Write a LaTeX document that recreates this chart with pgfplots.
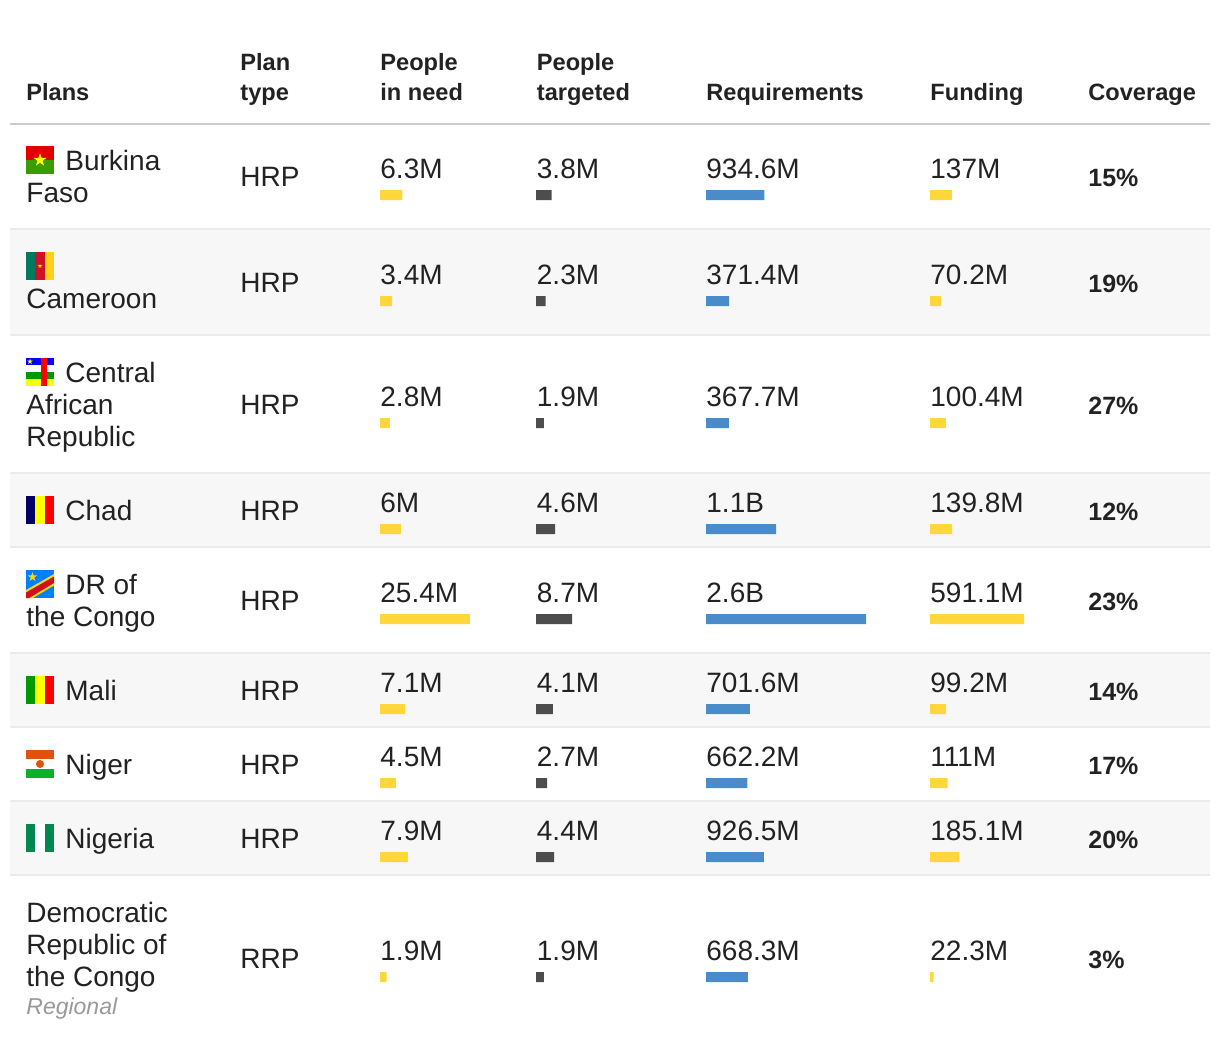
\documentclass[border=0pt]{standalone}
\usepackage{fontspec}
\setmainfont{Liberation Sans}
\usepackage{pgfplots}
\pgfplotsset{compat=1.18}
\usetikzlibrary{shapes.geometric}

\definecolor{ink}{HTML}{222222}
\definecolor{rowbg}{HTML}{F7F7F7}
\definecolor{rule}{HTML}{CCCCCC}
\definecolor{sep}{HTML}{EBEBEB}
\definecolor{yel}{HTML}{FFD73B}
\definecolor{dark}{HTML}{4D4D4D}
\definecolor{blu}{HTML}{4A8CCA}
\definecolor{grey}{HTML}{999999}
% flag colours
\definecolor{fred}{HTML}{E00000}
\definecolor{fpure}{HTML}{FF0000}
\definecolor{fgreen}{HTML}{3A9C00}
\definecolor{fyel}{HTML}{FFFF00}
\definecolor{cmgreen}{HTML}{007A5E}
\definecolor{cmred}{HTML}{CE1126}
\definecolor{cmyel}{HTML}{FCD116}
\definecolor{cagreen}{HTML}{009900}
\definecolor{navy}{HTML}{000066}
\definecolor{cdblue}{HTML}{007FFF}
\definecolor{cdred}{HTML}{CE1021}
\definecolor{cdyel}{HTML}{F7D618}
\definecolor{mlgreen}{HTML}{009A00}
\definecolor{neorange}{HTML}{E05206}
\definecolor{negreen}{HTML}{0DB02B}
\definecolor{nggreen}{HTML}{008751}

% one picture pixel = 0.5pt
\pgfplotsset{
  px/.style={hide axis, scale only axis, height=525pt, ymin=0, ymax=1050, y dir=reverse, clip=false},
  barcol/.style 2 args={px, at={(#1*0.5pt,0pt)}, width=120pt, xmin=0, xmax=240/#2, xbar, bar shift=0pt, bar width=5pt},
}
\tikzset{
  txt/.style={anchor=base west, inner sep=0pt, text=ink, font=\fontsize{14}{16}\selectfont},
  hd/.style={anchor=base west, inner sep=0pt, text=ink, font=\fontsize{11.8}{15}\selectfont\bfseries},
  cov/.style={anchor=base west, inner sep=0pt, text=ink, font=\fontsize{12.5}{15}\selectfont\bfseries},
  st/.style={star, star points=5, star point ratio=2.618, inner sep=0pt, draw=none},
}
% baseline of the values, values, plan type
\newcommand\rowvals[7]{%
  \node[txt] at (axis cs:240,#1+8) {#7};
  \node[txt] at (axis cs:380,#1) {#2};
  \node[txt] at (axis cs:536.5,#1) {#3};
  \node[txt] at (axis cs:706,#1) {#4};
  \node[txt] at (axis cs:930,#1) {#5};
  \node[cov] at (axis cs:1088,#1+8) {#6\%};
}

\begin{document}
\begin{tikzpicture}
\begin{axis}[px, width=610pt, xmin=0, xmax=1220]
  % page background keeps the full size of the picture
  \fill[white] (axis cs:0,0) rectangle (axis cs:1220,1050);
  % row backgrounds and rules
  \fill[rowbg] (axis cs:10,230) rectangle (axis cs:1210,334);
  \fill[rowbg] (axis cs:10,474) rectangle (axis cs:1210,546);
  \fill[rowbg] (axis cs:10,654) rectangle (axis cs:1210,726);
  \fill[rowbg] (axis cs:10,802) rectangle (axis cs:1210,874);
  \fill[rule] (axis cs:10,122.5) rectangle (axis cs:1210,124.5);
  \fill[sep] (axis cs:10,228) rectangle (axis cs:1210,230);
  \fill[sep] (axis cs:10,334) rectangle (axis cs:1210,336);
  \fill[sep] (axis cs:10,472) rectangle (axis cs:1210,474);
  \fill[sep] (axis cs:10,546) rectangle (axis cs:1210,548);
  \fill[sep] (axis cs:10,652) rectangle (axis cs:1210,654);
  \fill[sep] (axis cs:10,726) rectangle (axis cs:1210,728);
  \fill[sep] (axis cs:10,800) rectangle (axis cs:1210,802);
  \fill[sep] (axis cs:10,874) rectangle (axis cs:1210,876);

  % header
  \node[hd] at (axis cs:26,100) {Plans};
  \node[hd] at (axis cs:240,70) {Plan};
  \node[hd] at (axis cs:240,100) {type};
  \node[hd] at (axis cs:380,70) {People};
  \node[hd] at (axis cs:380,100) {in need};
  \node[hd] at (axis cs:536.5,70) {People};
  \node[hd] at (axis cs:536.5,100) {targeted};
  \node[hd] at (axis cs:706,100) {Requirements};
  \node[hd] at (axis cs:930,100) {Funding};
  \node[hd] at (axis cs:1088,100) {Coverage};

  % plan names
  \node[txt] at (axis cs:65,170) {Burkina};
  \node[txt] at (axis cs:26,202) {Faso};
  \node[txt] at (axis cs:26,308) {Cameroon};
  \node[txt] at (axis cs:65,382) {Central};
  \node[txt] at (axis cs:26,414) {African};
  \node[txt] at (axis cs:26,446) {Republic};
  \node[txt] at (axis cs:65,520) {Chad};
  \node[txt] at (axis cs:65,594) {DR of};
  \node[txt] at (axis cs:26,626) {the Congo};
  \node[txt] at (axis cs:65,700) {Mali};
  \node[txt] at (axis cs:65,774) {Niger};
  \node[txt] at (axis cs:65,848) {Nigeria};
  \node[txt] at (axis cs:26,922) {Democratic};
  \node[txt] at (axis cs:26,954) {Republic of};
  \node[txt] at (axis cs:26,986) {the Congo};
  \node[txt, text=grey, font=\fontsize{11.5}{15}\selectfont\itshape] at (axis cs:26,1014) {Regional};

  % values
  \rowvals{178}{6.3M}{3.8M}{934.6M}{137M}{15}{HRP}
  \rowvals{284}{3.4M}{2.3M}{371.4M}{70.2M}{19}{HRP}
  \rowvals{406}{2.8M}{1.9M}{367.7M}{100.4M}{27}{HRP}
  \rowvals{512}{6M}{4.6M}{1.1B}{139.8M}{12}{HRP}
  \rowvals{602}{25.4M}{8.7M}{2.6B}{591.1M}{23}{HRP}
  \rowvals{692}{7.1M}{4.1M}{701.6M}{99.2M}{14}{HRP}
  \rowvals{766}{4.5M}{2.7M}{662.2M}{111M}{17}{HRP}
  \rowvals{840}{7.9M}{4.4M}{926.5M}{185.1M}{20}{HRP}
  \rowvals{960}{1.9M}{1.9M}{668.3M}{22.3M}{3}{RRP}

  % flags
  % Burkina Faso
  \fill[fred] (axis cs:26,146) rectangle (axis cs:54,160);
  \fill[fgreen] (axis cs:26,160) rectangle (axis cs:54,174);
  \node[st, fill=fyel, minimum size=7pt] at (axis cs:40,160) {};
  % Cameroon
  \fill[cmgreen] (axis cs:26,252) rectangle (axis cs:35.3,280);
  \fill[cmred] (axis cs:35.3,252) rectangle (axis cs:44.7,280);
  \fill[cmyel] (axis cs:44.7,252) rectangle (axis cs:54,280);
  \node[st, fill=cmyel, minimum size=2.5pt] at (axis cs:40,266) {};
  % Central African Republic
  \fill[blue] (axis cs:26,358) rectangle (axis cs:54,365);
  \fill[white] (axis cs:26,365) rectangle (axis cs:54,372);
  \fill[cagreen] (axis cs:26,372) rectangle (axis cs:54,379);
  \fill[fyel] (axis cs:26,379) rectangle (axis cs:54,386);
  \fill[fpure] (axis cs:40.7,358) rectangle (axis cs:47.3,386);
  \node[st, fill=fyel, minimum size=3pt] at (axis cs:30,361.5) {};
  % Chad
  \fill[navy] (axis cs:26,496) rectangle (axis cs:35.3,524);
  \fill[fyel] (axis cs:35.3,496) rectangle (axis cs:44.7,524);
  \fill[fpure] (axis cs:44.7,496) rectangle (axis cs:54,524);
  % DR Congo
  \fill[cdblue] (axis cs:26,570) rectangle (axis cs:54,598);
  \fill[cdyel] (axis cs:26,590) -- (axis cs:54,574) -- (axis cs:54,585.5) -- (axis cs:33,598) -- (axis cs:26,598) -- cycle;
  \fill[cdred] (axis cs:26,592.5) -- (axis cs:54,576.5) -- (axis cs:54,583) -- (axis cs:29,598) -- (axis cs:26,598) -- cycle;
  \node[st, fill=cdyel, minimum size=5pt] at (axis cs:32.5,577) {};
  % Mali
  \fill[mlgreen] (axis cs:26,676) rectangle (axis cs:35.3,704);
  \fill[fyel] (axis cs:35.3,676) rectangle (axis cs:44.7,704);
  \fill[fpure] (axis cs:44.7,676) rectangle (axis cs:54,704);
  % Niger
  \fill[neorange] (axis cs:26,750) rectangle (axis cs:54,759.3);
  \fill[white] (axis cs:26,759.3) rectangle (axis cs:54,768.7);
  \fill[negreen] (axis cs:26,768.7) rectangle (axis cs:54,778);
  \fill[neorange] (axis cs:40,764) circle[radius=4];
  % Nigeria
  \fill[nggreen] (axis cs:26,824) rectangle (axis cs:35.3,852);
  \fill[white] (axis cs:35.3,824) rectangle (axis cs:44.7,852);
  \fill[nggreen] (axis cs:44.7,824) rectangle (axis cs:54,852);
\end{axis}

% people in need, millions
\begin{axis}[barcol={380}{3.54}]
  \addplot[draw=none, fill=yel] coordinates {(6.3,195) (3.4,301) (2.8,423) (6,529) (25.4,619) (7.1,709) (4.5,783) (7.9,857) (1.9,977)};
\end{axis}
% people targeted, millions
\begin{axis}[barcol={536}{4.14}]
  \addplot[draw=none, fill=dark] coordinates {(3.8,195) (2.3,301) (1.9,423) (4.6,529) (8.7,619) (4.1,709) (2.7,783) (4.4,857) (1.9,977)};
\end{axis}
% requirements, millions
\begin{axis}[barcol={706}{0.0625}]
  \addplot[draw=none, fill=blu] coordinates {(934.6,195) (371.4,301) (367.7,423) (1120,529) (2560,619) (701.6,709) (662.2,783) (926.5,857) (668.3,977)};
\end{axis}
% funding, millions
\begin{axis}[barcol={930}{0.159}]
  \addplot[draw=none, fill=yel] coordinates {(137,195) (70.2,301) (100.4,423) (139.8,529) (591.1,619) (99.2,709) (111,783) (185.1,857) (22.3,977)};
\end{axis}
\end{tikzpicture}
\end{document}
